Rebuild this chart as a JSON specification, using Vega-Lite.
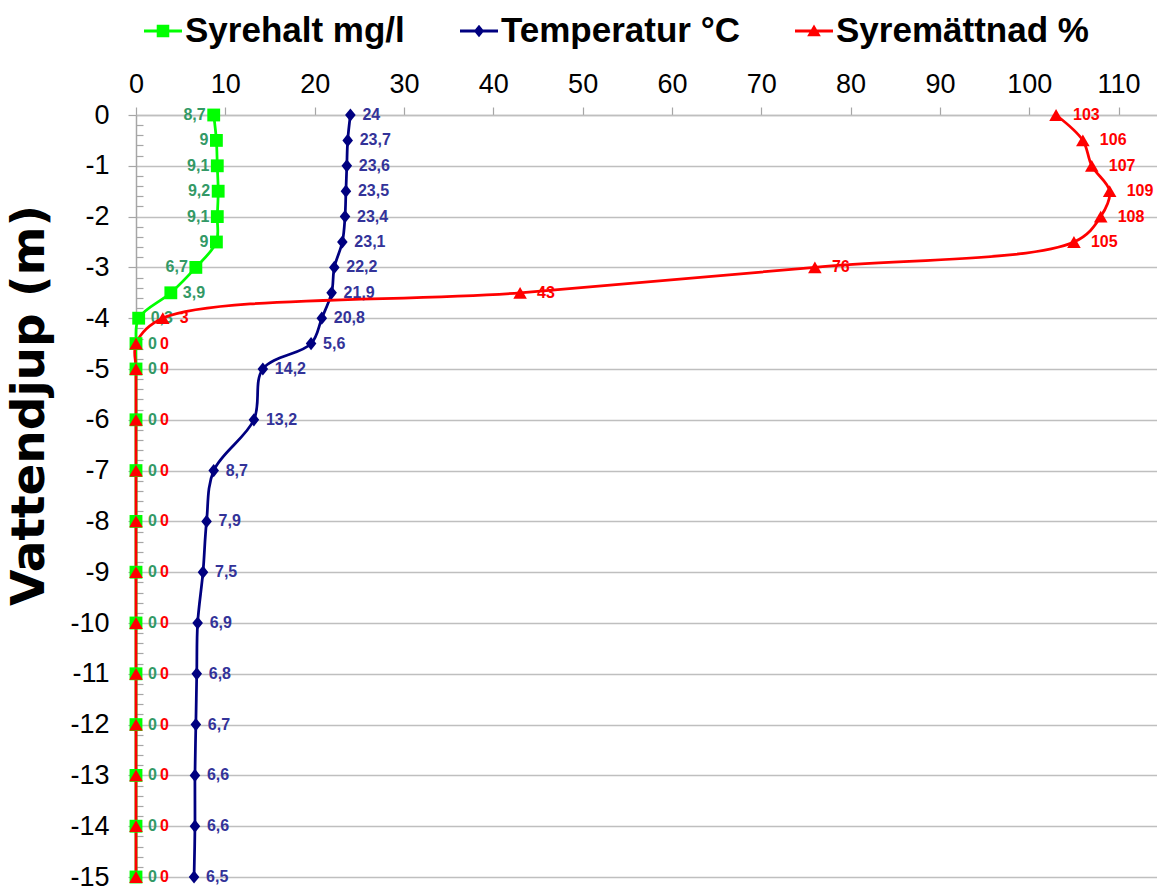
{
  "$schema": "https://vega.github.io/schema/vega-lite/v6.json",
  "width": 1021,
  "height": 762,
  "autosize": {"type": "none"},
  "padding": {"left": 136, "top": 115, "right": 0, "bottom": 9},
  "background": "#ffffff",
  "config": {"view": {"stroke": null}, "font": "Liberation Sans"},
  "datasets": {
    "profile": [
      {"depth": 0, "series": "Syrehalt mg/l", "value": 8.7, "label": "8,7"},
      {"depth": -0.5, "series": "Syrehalt mg/l", "value": 9, "label": "9"},
      {"depth": -1, "series": "Syrehalt mg/l", "value": 9.1, "label": "9,1"},
      {"depth": -1.5, "series": "Syrehalt mg/l", "value": 9.2, "label": "9,2"},
      {"depth": -2, "series": "Syrehalt mg/l", "value": 9.1, "label": "9,1"},
      {"depth": -2.5, "series": "Syrehalt mg/l", "value": 9, "label": "9"},
      {"depth": -3, "series": "Syrehalt mg/l", "value": 6.7, "label": "6,7"},
      {"depth": -3.5, "series": "Syrehalt mg/l", "value": 3.9, "label": "3,9"},
      {"depth": -4, "series": "Syrehalt mg/l", "value": 0.3, "label": "0,3"},
      {"depth": -4.5, "series": "Syrehalt mg/l", "value": 0, "label": "0"},
      {"depth": -5, "series": "Syrehalt mg/l", "value": 0, "label": "0"},
      {"depth": -6, "series": "Syrehalt mg/l", "value": 0, "label": "0"},
      {"depth": -7, "series": "Syrehalt mg/l", "value": 0, "label": "0"},
      {"depth": -8, "series": "Syrehalt mg/l", "value": 0, "label": "0"},
      {"depth": -9, "series": "Syrehalt mg/l", "value": 0, "label": "0"},
      {"depth": -10, "series": "Syrehalt mg/l", "value": 0, "label": "0"},
      {"depth": -11, "series": "Syrehalt mg/l", "value": 0, "label": "0"},
      {"depth": -12, "series": "Syrehalt mg/l", "value": 0, "label": "0"},
      {"depth": -13, "series": "Syrehalt mg/l", "value": 0, "label": "0"},
      {"depth": -14, "series": "Syrehalt mg/l", "value": 0, "label": "0"},
      {"depth": -15, "series": "Syrehalt mg/l", "value": 0, "label": "0"},
      {"depth": 0, "series": "Temperatur °C", "value": 24, "label": "24"},
      {"depth": -0.5, "series": "Temperatur °C", "value": 23.7, "label": "23,7"},
      {"depth": -1, "series": "Temperatur °C", "value": 23.6, "label": "23,6"},
      {"depth": -1.5, "series": "Temperatur °C", "value": 23.5, "label": "23,5"},
      {"depth": -2, "series": "Temperatur °C", "value": 23.4, "label": "23,4"},
      {"depth": -2.5, "series": "Temperatur °C", "value": 23.1, "label": "23,1"},
      {"depth": -3, "series": "Temperatur °C", "value": 22.2, "label": "22,2"},
      {"depth": -3.5, "series": "Temperatur °C", "value": 21.9, "label": "21,9"},
      {"depth": -4, "series": "Temperatur °C", "value": 20.8, "label": "20,8"},
      {"depth": -4.5, "series": "Temperatur °C", "value": 19.6, "label": "5,6"},
      {"depth": -5, "series": "Temperatur °C", "value": 14.2, "label": "14,2"},
      {"depth": -6, "series": "Temperatur °C", "value": 13.2, "label": "13,2"},
      {"depth": -7, "series": "Temperatur °C", "value": 8.7, "label": "8,7"},
      {"depth": -8, "series": "Temperatur °C", "value": 7.9, "label": "7,9"},
      {"depth": -9, "series": "Temperatur °C", "value": 7.5, "label": "7,5"},
      {"depth": -10, "series": "Temperatur °C", "value": 6.9, "label": "6,9"},
      {"depth": -11, "series": "Temperatur °C", "value": 6.8, "label": "6,8"},
      {"depth": -12, "series": "Temperatur °C", "value": 6.7, "label": "6,7"},
      {"depth": -13, "series": "Temperatur °C", "value": 6.6, "label": "6,6"},
      {"depth": -14, "series": "Temperatur °C", "value": 6.6, "label": "6,6"},
      {"depth": -15, "series": "Temperatur °C", "value": 6.5, "label": "6,5"},
      {"depth": 0, "series": "Syremättnad %", "value": 103, "label": "103"},
      {"depth": -0.5, "series": "Syremättnad %", "value": 106, "label": "106"},
      {"depth": -1, "series": "Syremättnad %", "value": 107, "label": "107"},
      {"depth": -1.5, "series": "Syremättnad %", "value": 109, "label": "109"},
      {"depth": -2, "series": "Syremättnad %", "value": 108, "label": "108"},
      {"depth": -2.5, "series": "Syremättnad %", "value": 105, "label": "105"},
      {"depth": -3, "series": "Syremättnad %", "value": 76, "label": "76"},
      {"depth": -3.5, "series": "Syremättnad %", "value": 43, "label": "43"},
      {"depth": -4, "series": "Syremättnad %", "value": 3, "label": "3"},
      {"depth": -4.5, "series": "Syremättnad %", "value": 0, "label": "0"},
      {"depth": -5, "series": "Syremättnad %", "value": 0, "label": "0"},
      {"depth": -6, "series": "Syremättnad %", "value": 0, "label": "0"},
      {"depth": -7, "series": "Syremättnad %", "value": 0, "label": "0"},
      {"depth": -8, "series": "Syremättnad %", "value": 0, "label": "0"},
      {"depth": -9, "series": "Syremättnad %", "value": 0, "label": "0"},
      {"depth": -10, "series": "Syremättnad %", "value": 0, "label": "0"},
      {"depth": -11, "series": "Syremättnad %", "value": 0, "label": "0"},
      {"depth": -12, "series": "Syremättnad %", "value": 0, "label": "0"},
      {"depth": -13, "series": "Syremättnad %", "value": 0, "label": "0"},
      {"depth": -14, "series": "Syremättnad %", "value": 0, "label": "0"},
      {"depth": -15, "series": "Syremättnad %", "value": 0, "label": "0"}
    ]
  },
  "data": {"name": "profile"},
  "encoding": {
    "x": {
      "field": "value",
      "type": "quantitative",
      "scale": {"domain": [0, 114.3], "nice": false, "zero": false},
      "axis": {
        "orient": "top",
        "title": null,
        "values": [0, 10, 20, 30, 40, 50, 60, 70, 80, 90, 100, 110],
        "grid": false,
        "tickSize": 8,
        "tickColor": "#A6A6A6",
        "tickWidth": 1.2,
        "domainColor": "#BFBFBF",
        "domainWidth": 1.5,
        "labelFont": "Liberation Sans",
        "labelFontSize": 27,
        "labelColor": "#000000",
        "labelPadding": 9,
        "labelFlush": false,
        "labelOverlap": false
      }
    },
    "y": {
      "field": "depth",
      "type": "quantitative",
      "scale": {"domain": [-15, 0], "nice": false, "zero": false},
      "axis": {
        "orient": "left",
        "title": "Vattendjup (m)",
        "values": [0, -0.2, -0.4, -0.6, -0.8, -1, -1.2, -1.4, -1.6, -1.8, -2, -2.2, -2.4, -2.6, -2.8, -3, -3.2, -3.4, -3.6, -3.8, -4, -4.2, -4.4, -4.6, -4.8, -5, -5.2, -5.4, -5.6, -5.8, -6, -6.2, -6.4, -6.6, -6.8, -7, -7.2, -7.4, -7.6, -7.8, -8, -8.2, -8.4, -8.6, -8.8, -9, -9.2, -9.4, -9.6, -9.8, -10, -10.2, -10.4, -10.6, -10.8, -11, -11.2, -11.4, -11.6, -11.8, -12, -12.2, -12.4, -12.6, -12.8, -13, -13.2, -13.4, -13.6, -13.8, -14, -14.2, -14.4, -14.6, -14.8, -15],
        "labelExpr": "abs(datum.value - round(datum.value)) < 0.01 ? '' + round(datum.value) : ''",
        "labelFont": "Liberation Sans",
        "labelFontSize": 27,
        "labelColor": "#000000",
        "labelPadding": 19,
        "labelOverlap": false,
        "labelFlush": false,
        "labelBound": false,
        "grid": true,
        "gridColor": "#BFBFBF",
        "gridWidth": 1.5,
        "gridOpacity": {"condition": {"test": "abs(datum.value - round(datum.value)) < 0.01", "value": 1}, "value": 0},
        "tickSize": {"condition": {"test": "abs(datum.value - round(datum.value)) < 0.01", "value": 8}, "value": -7},
        "tickColor": "#A6A6A6",
        "tickWidth": 1.2,
        "domainColor": "#A6A6A6",
        "domainWidth": 1.5,
        "titleFont": "DejaVu Sans",
        "titleFontSize": 47,
        "titleFontWeight": "bold",
        "titleColor": "#000000",
        "titleAngle": 270,
        "titleAlign": "center",
        "titleBaseline": "middle",
        "titleX": -107,
        "titleY": 290
      }
    }
  },
  "layer": [
    {
      "transform": [{"filter": "datum.series === 'Syrehalt mg/l' && datum.value > 5"}],
      "mark": {"type": "text", "align": "right", "baseline": "middle", "dx": -8, "font": "Liberation Sans", "fontSize": 16, "fontWeight": "bold", "color": "#339966"},
      "encoding": {"text": {"field": "label"}}
    },
    {
      "transform": [{"filter": "datum.series === 'Syrehalt mg/l' && datum.value <= 5"}],
      "mark": {"type": "text", "align": "left", "baseline": "middle", "dx": 12, "font": "Liberation Sans", "fontSize": 16, "fontWeight": "bold", "color": "#339966"},
      "encoding": {"text": {"field": "label"}}
    },
    {
      "transform": [{"filter": "datum.series === 'Temperatur °C'"}],
      "mark": {"type": "text", "align": "left", "baseline": "middle", "dx": 12, "font": "Liberation Sans", "fontSize": 16, "fontWeight": "bold", "color": "#333399"},
      "encoding": {"text": {"field": "label"}}
    },
    {
      "transform": [{"filter": "datum.series === 'Syremättnad %' && datum.value > 0"}],
      "mark": {"type": "text", "align": "left", "baseline": "middle", "dx": 17, "font": "Liberation Sans", "fontSize": 16, "fontWeight": "bold", "color": "#FF0000"},
      "encoding": {"text": {"field": "label"}}
    },
    {
      "transform": [{"filter": "datum.series === 'Syremättnad %' && datum.value <= 0"}],
      "mark": {"type": "text", "align": "left", "baseline": "middle", "dx": 24, "font": "Liberation Sans", "fontSize": 16, "fontWeight": "bold", "color": "#FF0000"},
      "encoding": {"text": {"field": "label"}}
    },
    {
      "mark": {"type": "line", "interpolate": "catmull-rom", "strokeWidth": 2.75},
      "encoding": {
        "order": {"field": "depth", "sort": "descending"},
        "color": {
          "field": "series",
          "type": "nominal",
          "scale": {"domain": ["Syrehalt mg/l", "Temperatur °C", "Syremättnad %"], "range": ["#00FF00", "#000080", "#FF0000"]},
          "legend": {
            "orient": "none",
            "legendX": 8,
            "legendY": -103,
            "direction": "horizontal",
            "title": null,
            "padding": 0,
            "labelFont": "Liberation Sans",
            "labelFontSize": 35,
            "labelFontWeight": "bold",
            "labelColor": "#000000",
            "labelOffset": 3,
            "labelLimit": 500,
            "columnPadding": 55,
            "symbolSize": 1444,
            "encode": {
              "symbols": {
                "update": {
                  "shape": {"signal": "datum.value === 'Syrehalt mg/l' ? 'M-1,-0.075H1V0.075H-1Z M-0.33,-0.33H0.33V0.33H-0.33Z' : datum.value === 'Temperatur °C' ? 'M-1,-0.075H1V0.075H-1Z M0,-0.33L0.27,0L0,0.33L-0.27,0Z' : 'M-1,-0.075H1V0.075H-1Z M0,-0.34L0.36,0.28L-0.36,0.28Z'"},
                  "fill": {"signal": "datum.value === 'Syrehalt mg/l' ? '#00FF00' : datum.value === 'Temperatur °C' ? '#000080' : '#FF0000'"},
                  "stroke": {"value": "transparent"},
                  "strokeWidth": {"value": 0},
                  "size": {"value": 1444},
                  "opacity": {"value": 1},
                  "fillOpacity": {"value": 1}
                }
              }
            }
          }
        }
      }
    },
    {
      "transform": [{"filter": "datum.series === 'Syrehalt mg/l'"}],
      "mark": {"type": "point", "filled": true, "shape": "square", "size": 165, "opacity": 1, "strokeWidth": 0, "color": "#00FF00"}
    },
    {
      "transform": [{"filter": "datum.series === 'Temperatur °C'"}],
      "mark": {"type": "point", "filled": true, "shape": "M0,-1L0.8,0L0,1L-0.8,0Z", "size": 175, "opacity": 1, "strokeWidth": 0, "color": "#000080"}
    },
    {
      "transform": [{"filter": "datum.series === 'Syremättnad %'"}],
      "mark": {"type": "point", "filled": true, "shape": "triangle-up", "size": 185, "opacity": 1, "strokeWidth": 0, "color": "#FF0000"}
    }
  ]
}
